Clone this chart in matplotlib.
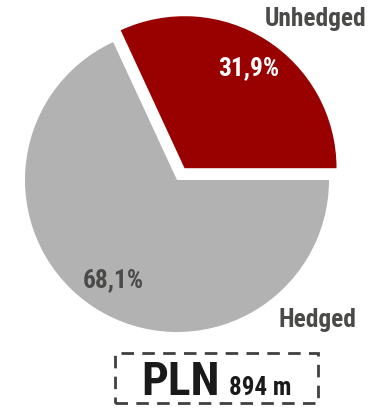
import matplotlib
matplotlib.use('Agg')
import matplotlib.pyplot as plt
from matplotlib.patches import Rectangle

# data
labels = ['Unhedged', 'Hedged']
values = [31.9, 68.1]
colors = ['#990000', '#b2b2b2']
total_label = 'PLN'
total_value = '894 m'

plt.rcParams['font.family'] = ['Roboto Condensed', 'DejaVu Sans']
txt = '#4a4a48'

fig = plt.figure(figsize=(3.8, 4.09), dpi=100)
ax = fig.add_axes([0, 0, 1, 1])

H = 409
wedges, texts, autotexts = ax.pie(
    values, colors=colors, startangle=0, counterclock=True,
    explode=[14, 0], center=(177, H - 180), radius=152, frame=True,
    autopct=lambda p: ('%.1f%%' % p).replace('.', ','), pctdistance=0.78,
    wedgeprops=dict(linewidth=0))
autotexts[0].set_color('white')
autotexts[1].set_color(txt)
for t in autotexts:
    t.set_fontsize(18.3)
    t.set_fontweight('bold')

ax.text(316, H - 19, labels[0], ha='center', va='center', fontsize=18.3, fontweight='bold', color=txt)
ax.text(317, H - 320, labels[1], ha='center', va='center', fontsize=18.3, fontweight='bold', color=txt)

# total box
ax.add_patch(Rectangle((115, H - 403), 203, 50, fill=False, edgecolor='#404040',
                       linewidth=2, linestyle=(0, (4.5, 3))))
ax.text(141, H - 395, total_label, ha='left', va='baseline', fontsize=34, fontweight='bold', color='#1a1a1a')
ax.text(229, H - 395, total_value, ha='left', va='baseline', fontsize=18, fontweight='bold', color='#1a1a1a')

ax.set_xlim(0, 380)
ax.set_ylim(0, H)
ax.set_aspect('auto')
ax.axis('off')

plt.savefig('out.png', dpi=100)
